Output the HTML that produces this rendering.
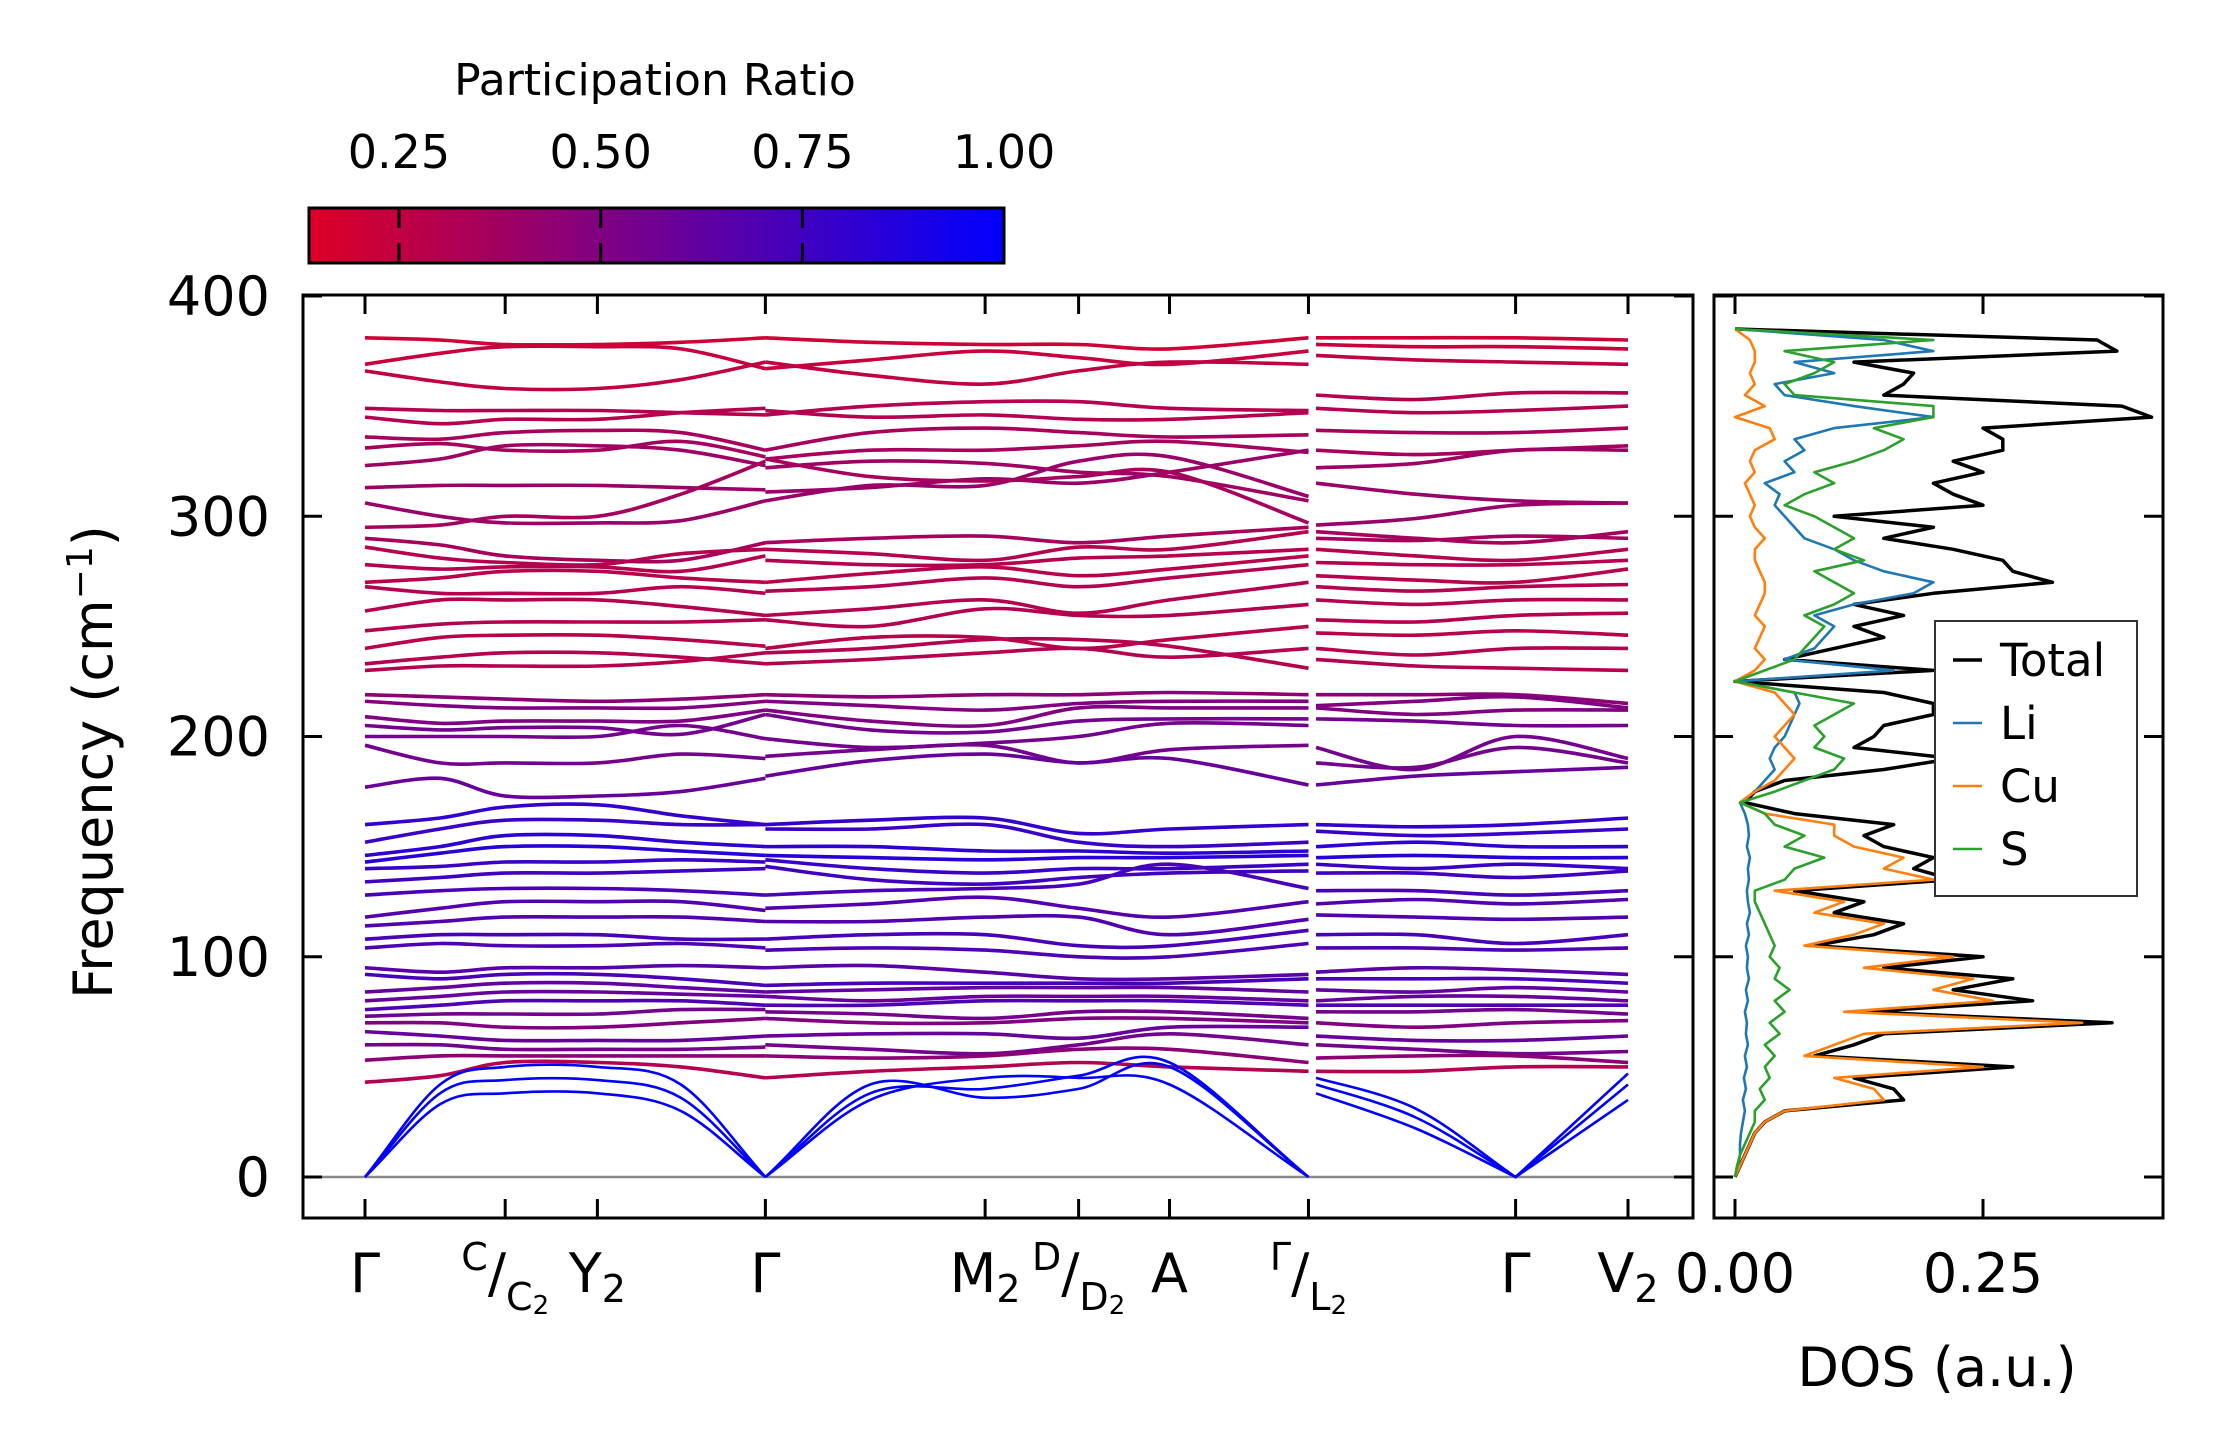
<!DOCTYPE html>
<html><head><meta charset="utf-8">
<style>
html,body{margin:0;padding:0;background:#fff;}
svg{display:block;font-family:"DejaVu Sans","Liberation Sans",sans-serif;}
</style></head>
<body>
<svg id="fig" width="2222" height="1455" viewBox="0 0 2222 1455" xmlns="http://www.w3.org/2000/svg">
<defs>
<linearGradient id="cbgrad" x1="0" x2="1" y1="0" y2="0">
<stop offset="0" stop-color="rgb(222,0,38)"/>
<stop offset="1" stop-color="rgb(0,0,255)"/>
</linearGradient>
<clipPath id="mainclip"><rect x="303" y="295" width="1390" height="923"/></clipPath>
<clipPath id="dosclip"><rect x="1714" y="295" width="449" height="923"/></clipPath>
</defs>
<g id="colorbar">
<text x="655" y="95" font-size="44" text-anchor="middle">Participation Ratio</text>
<rect x="309" y="208" width="695" height="55" fill="url(#cbgrad)" stroke="#000" stroke-width="3"/>
</g>
<g id="main"></g>
<g id="dos"></g>
</svg>
<script>
const cbTicks = [0.25, 0.50, 0.75, 1.00];
const cbTickLabels = ["0.25", "0.50", "0.75", "1.00"];
const yTicks = [0, 100, 200, 300, 400];
const kTicks = [0, 0.111, 0.184, 0.317, 0.491, 0.565, 0.637, 0.747, 0.911, 1.0];
const seg1K = [0, 0.0594, 0.111, 0.184, 0.250, 0.317];
const seg2K = [0.317, 0.400, 0.491, 0.565, 0.637, 0.747];
const seg3K = [0.753, 0.832, 0.911, 1.0];
const bands = [
[381,380,378,378,379,381, 381,379,378,378,376,381, 381,381,381,380],
[369,374,377,377,376,367, 367,371,375,372,369,375, 378,377,377,376],
[366,361,358,358,362,370, 370,364,360,366,370,369, 373,371,370,369],
[349,348,348,348,347,346, 346,350,352,352,349,348, 355,353,356,356],
[345,342,344,344,347,349, 348,345,346,344,344,347, 349,347,348,350],
[336,335,338,339,338,330, 330,338,340,338,336,337, 339,338,338,340],
[331,333,330,330,334,327, 326,330,330,332,334,329, 330,328,330,332],
[323,326,332,332,330,323, 322,325,324,320,318,307, 322,324,330,330],
[313,314,314,314,313,312, 311,313,317,315,320,330, 315,310,307,306],
[306,300,297,297,298,307, 307,314,314,325,327,309, 296,299,305,306],
[295,296,300,300,310,325, 326,318,316,318,320,297, 290,289,291,290],
[290,287,282,280,280,288, 288,290,291,288,291,295, 293,290,288,293],
[286,281,279,278,283,285, 285,283,280,286,285,293, 285,282,280,285],
[278,276,277,277,275,282, 280,278,278,281,282,285, 279,278,278,280],
[270,272,275,275,272,270, 270,274,277,273,276,282, 273,271,270,276],
[268,265,265,265,268,265, 266,268,272,268,272,278, 268,266,268,269],
[257,262,262,262,259,255, 255,258,262,256,262,270, 262,260,262,262],
[248,251,252,252,252,253, 253,250,258,255,255,260, 253,252,255,256],
[240,245,246,246,244,241, 240,245,245,240,244,250, 247,246,248,246],
[233,236,238,238,236,233, 233,235,238,240,236,240, 240,237,240,240],
[230,232,232,232,234,238, 238,240,244,244,241,231, 235,232,231,230],
[219,218,217,216,217,219, 219,218,219,219,220,219, 219,219,219,215],
[216,214,213,213,213,216, 216,214,212,215,216,216, 214,216,218,213],
[209,206,207,207,207,212, 212,207,205,213,213,213, 213,210,212,212],
[205,203,204,204,201,210, 210,203,202,207,208,208, 208,207,205,205],
[200,200,200,200,205,199, 199,195,197,200,206,205, 195,185,200,190],
[196,188,188,188,192,190, 191,194,196,188,194,196, 188,186,195,188],
[177,181,173,173,175,181, 182,189,192,188,190,178, 178,182,184,186],
[160,163,168,169,164,160, 160,162,163,156,158,160, 160,159,160,163],
[152,158,162,162,160,160, 158,158,160,152,150,152, 157,155,156,158],
[146,150,155,155,152,150, 150,150,148,148,147,148, 150,152,150,150],
[143,147,150,150,148,146, 146,145,144,145,145,146, 145,146,145,145],
[140,141,143,143,144,143, 144,140,138,140,140,142, 142,140,142,140],
[134,136,138,138,139,140, 141,135,133,136,138,139, 138,138,136,139],
[128,130,131,131,130,128, 128,130,131,133,142,131, 130,130,128,130],
[118,122,125,125,125,121, 122,124,127,122,118,125, 124,126,124,126],
[114,116,118,118,118,116, 116,116,118,118,110,117, 119,118,117,118],
[108,110,110,110,108,108, 108,110,110,105,105,112, 110,110,106,110],
[104,106,105,105,106,104, 103,104,103,100,100,106, 104,104,103,104],
[95,93,95,95,96,95, 95,96,93,90,90,92, 93,95,94,92],
[92,90,92,92,90,87, 87,88,88,88,88,90, 90,90,90,88],
[84,86,88,88,86,84, 84,85,86,86,86,84, 85,84,86,84],
[80,82,84,84,83,82, 82,80,82,82,82,80, 80,82,82,80],
[76,78,80,80,80,78, 78,78,80,80,80,78, 78,78,78,78],
[73,74,74,74,76,76, 75,74,72,75,75,72, 75,75,76,74],
[70,70,68,68,70,72, 72,70,70,72,72,70, 70,68,70,71],
[66,64,62,62,62,64, 64,65,65,63,68,68, 64,62,62,64],
[60,60,58,58,58,59, 60,58,56,60,65,60, 60,58,56,57],
[53,55,55,55,55,55, 55,54,55,58,58,52, 54,55,55,52],
[43,46,52,52,50,45, 45,48,50,52,50,48, 48,48,50,50],
[0,33,38,38,30,0, 0,35,45,45,42,0, 38,22,0,35],
[0,38,44,44,36,0, 0,38,40,46,52,0, 42,27,0,42],
[0,42,50,50,42,0, 0,42,36,40,50,0, 45,31,0,47]
];
const bandPR = [0.2,0.22,0.25,0.3,0.3,0.35,0.35,0.38,0.4,0.4,0.35,0.35,0.3,0.3,0.28,0.3,0.3,0.3,0.28,0.3,0.3,
0.45,0.5,0.5,0.55,0.55,0.55,0.6,0.8,0.78,0.82,0.85,0.78,0.75,0.72,0.68,0.68,0.72,0.7,
0.65,0.72,0.62,0.6,0.7,0.55,0.5,0.6,0.55,0.45,0.3,1.0,1.0,1.0];
const dosFreq = [0,5,10,15,20,25,30,35,40,45,50,55,60,65,70,75,80,85,90,95,100,105,110,115,120,125,130,135,140,145,150,155,160,165,170,175,180,185,190,195,200,205,210,215,220,225,230,235,240,245,250,255,260,265,270,275,280,285,290,295,300,305,310,315,320,325,330,335,340,345,350,355,360,365,370,375,380,385];
const dosTotal = [0,.005,.01,.015,.02,.03,.05,.17,.16,.12,.28,.08,.12,.15,.38,.13,.3,.22,.28,.15,.25,.08,.14,.17,.1,.13,.06,.22,.18,.2,.15,.13,.16,.06,.01,.02,.05,.15,.22,.12,.14,.15,.2,.2,.15,0,.2,.05,.1,.15,.12,.17,.12,.2,.32,.28,.27,.22,.15,.2,.1,.25,.22,.2,.25,.22,.27,.27,.25,.42,.39,.15,.17,.18,.12,.385,.365,0];
const dosCu = [0,.005,.01,.015,.02,.03,.05,.15,.14,.1,.25,.07,.1,.13,.35,.11,.26,.2,.24,.13,.22,.07,.12,.15,.08,.11,.04,.2,.15,.17,.12,.1,.1,.03,.005,.02,.04,.05,.06,.05,.04,.05,.06,.05,.04,0,.02,.03,.02,.025,.03,.02,.025,.03,.03,.025,.02,.02,.03,.02,.015,.02,.015,.01,.02,.015,.02,.04,.035,0,.03,.01,.02,.015,.02,.02,.015,0];
const dosS = [0,.002,.005,.01,.015,.02,.02,.03,.025,.035,.03,.04,.03,.045,.035,.05,.04,.055,.04,.045,.035,.04,.035,.03,.025,.02,.02,.05,.06,.09,.05,.07,.04,.03,.005,.04,.07,.1,.11,.08,.09,.08,.1,.12,.06,0,.03,.06,.07,.08,.09,.07,.1,.12,.1,.08,.13,.1,.12,.1,.08,.05,.07,.1,.08,.12,.15,.17,.14,.2,.2,.06,.05,.08,.1,.05,.2,0];
const dosLi = [0,.003,.005,.005,.006,.008,.01,.008,.011,.009,.012,.01,.013,.011,.012,.01,.013,.011,.014,.012,.013,.011,.014,.012,.015,.013,.012,.014,.013,.015,.012,.014,.013,.01,.005,.02,.03,.04,.035,.04,.05,.055,.06,.065,.06,0,.16,.05,.08,.09,.1,.08,.12,.18,.2,.15,.12,.1,.07,.06,.05,.04,.045,.03,.06,.05,.07,.06,.1,.2,.12,.05,.04,.1,.06,.2,.15,0];
const dosXTicks = [0, 0.25];
const dosXTickLabels = ["0.00", "0.25"];

const NS = "http://www.w3.org/2000/svg";
const yS = v => 1177 - v * 2.2025;
const kS = k => 365 + k * 1263;
const dS = d => 1735 + d * 992;
const cbS = v => 399 + (v - 0.25) * 806.8;
function prColor(p){
  const t = Math.max(0, Math.min(1, (p - 0.136) / (1 - 0.136)));
  return `rgb(${Math.round(222*(1-t))},0,${Math.round(38+217*t)})`;
}
function mk(tag, attrs, parent){
  const e = document.createElementNS(NS, tag);
  for (const k in attrs) e.setAttribute(k, attrs[k]);
  parent.appendChild(e); return e;
}
function catmull(pts){
  let d = `M${pts[0][0]},${pts[0][1]}`;
  for (let i = 0; i < pts.length - 1; i++){
    const p0 = pts[Math.max(0,i-1)], p1 = pts[i], p2 = pts[i+1], p3 = pts[Math.min(pts.length-1,i+2)];
    let c1x = p1[0] + (p2[0]-p0[0])/6, c1y = p1[1] + (p2[1]-p0[1])/6;
    let c2x = p2[0] - (p3[0]-p1[0])/6, c2y = p2[1] - (p3[1]-p1[1])/6;
    if (p1[1] >= 1176) { c1x = p1[0] + (p2[0]-p1[0])/3; c1y = p1[1] + (p2[1]-p1[1])/3; }
    if (p2[1] >= 1176) { c2x = p2[0] - (p2[0]-p1[0])/3; c2y = p2[1] - (p2[1]-p1[1])/3; }
    d += ` C${c1x.toFixed(1)},${c1y.toFixed(1)} ${c2x.toFixed(1)},${c2y.toFixed(1)} ${p2[0].toFixed(1)},${p2[1].toFixed(1)}`;
  }
  return d;
}

const cb = document.getElementById('colorbar');
cbTicks.forEach((v, i) => {
  const x = cbS(v);
  if (v < 1) {
    const t1 = mk('line', {x1:x, x2:x, y1:208, y2:228, stroke:'#000', 'stroke-width':3}, cb);
    
    
    const t2 = mk('line', {x1:x, x2:x, y1:243, y2:263, stroke:'#000', 'stroke-width':3}, cb);
    
    
  }
  const tl = mk('text', {x:x, y:168, 'font-size':46, 'text-anchor':'middle'}, cb);
  
  
  tl.textContent = cbTickLabels[i];
});

const main = document.getElementById('main');
const bg = mk('g', {'clip-path':'url(#mainclip)'}, main);
const zl = mk('line', {x1:303, x2:1693, y1:yS(0), y2:yS(0), stroke:'#888', 'stroke-width':2.5}, bg);


const segs = [[seg1K,0],[seg2K,6],[seg3K,12]];
bands.forEach((b, bi) => {
  const col = prColor(bandPR[bi]);
  const w = bandPR[bi] >= 1 ? 2.6 : 3.6;
  segs.forEach(([ks, off]) => {
    const pts = ks.map((k, j) => [kS(k), yS(b[off+j])]);
    const p = mk('path', {d:catmull(pts), fill:'none', stroke:col, 'stroke-width':w}, bg);
    
    
  });
});
const mf = mk('rect', {x:303, y:295, width:1390, height:923, fill:'none', stroke:'#000', 'stroke-width':3}, main);


yTicks.forEach(v => {
  const y = yS(v);
  const a = mk('line', {x1:303, x2:322, y1:y, y2:y, stroke:'#000', 'stroke-width':3}, main);
  
  
  const b = mk('line', {x1:1674, x2:1693, y1:y, y2:y, stroke:'#000', 'stroke-width':3}, main);
  
  
  const t = mk('text', {x:270, y:y+19, 'font-size':54, 'text-anchor':'end'}, main);
  
  
  t.textContent = String(v);
});
kTicks.forEach(k => {
  const x = kS(k);
  const a = mk('line', {x1:x, x2:x, y1:1199, y2:1218, stroke:'#000', 'stroke-width':3}, main);
  
  
  const b = mk('line', {x1:x, x2:x, y1:295, y2:314, stroke:'#000', 'stroke-width':3}, main);
  
  
});
const yl = mk('text', {x:0, y:0, 'font-size':54, 'text-anchor':'middle', transform:'translate(112,762) rotate(-90)'}, main);


yl.innerHTML = 'Frequency (cm<tspan font-size="36" dy="-20">−1</tspan><tspan dy="20">)</tspan>';

const xLabels = [
  [0, 'Γ'],
  [0.111, '<tspan font-size="38" dy="-22">C</tspan><tspan dy="22">/</tspan><tspan font-size="38" dy="18">C</tspan><tspan font-size="26" dy="4">2</tspan>'],
  [0.184, 'Y<tspan font-size="38" dy="10">2</tspan>'],
  [0.317, 'Γ'],
  [0.491, 'M<tspan font-size="38" dy="10">2</tspan>'],
  [0.565, '<tspan font-size="38" dy="-22">D</tspan><tspan dy="22">/</tspan><tspan font-size="38" dy="18">D</tspan><tspan font-size="26" dy="4">2</tspan>'],
  [0.637, 'A'],
  [0.747, '<tspan font-size="38" dy="-22">Γ</tspan><tspan dy="22">/</tspan><tspan font-size="38" dy="18">L</tspan><tspan font-size="26" dy="4">2</tspan>'],
  [0.911, 'Γ'],
  [1.0, 'V<tspan font-size="38" dy="10">2</tspan>']
];
xLabels.forEach(([k, html]) => {
  const t = mk('text', {x:kS(k), y:1292, 'font-size':54, 'text-anchor':'middle'}, main);
  
  
  t.innerHTML = html;
});

const dos = document.getElementById('dos');
const dg = mk('g', {'clip-path':'url(#dosclip)'}, dos);
function dosLine(arr, col, w, name){
  const pts = arr.map((v, i) => `${dS(v).toFixed(1)},${yS(dosFreq[i]).toFixed(1)}`).join(' ');
  const p = mk('polyline', {points:pts, fill:'none', stroke:col, 'stroke-width':w, 'stroke-linejoin':'round'}, dg);
  
  
}
dosLine(dosTotal, '#000', 3.5, 'dos-total-line');
dosLine(dosLi, '#1f77b4', 2.6, 'dos-li-line');
dosLine(dosCu, '#ff7f0e', 2.6, 'dos-cu-line');
dosLine(dosS, '#2ca02c', 2.6, 'dos-s-line');
const df = mk('rect', {x:1714, y:295, width:449, height:923, fill:'none', stroke:'#000', 'stroke-width':3}, dos);


yTicks.forEach(v => {
  const y = yS(v);
  const a = mk('line', {x1:1714, x2:1733, y1:y, y2:y, stroke:'#000', 'stroke-width':3}, dos);
  
  
  const b = mk('line', {x1:2144, x2:2163, y1:y, y2:y, stroke:'#000', 'stroke-width':3}, dos);
  
  
});
dosXTicks.forEach((v, i) => {
  const x = dS(v);
  const a = mk('line', {x1:x, x2:x, y1:1199, y2:1218, stroke:'#000', 'stroke-width':3}, dos);
  
  
  const b = mk('line', {x1:x, x2:x, y1:295, y2:314, stroke:'#000', 'stroke-width':3}, dos);
  
  
  const t = mk('text', {x:x, y:1292, 'font-size':54, 'text-anchor':'middle'}, dos);
  
  
  t.textContent = dosXTickLabels[i];
});
const dxl = mk('text', {x:1937, y:1386, 'font-size':54, 'text-anchor':'middle'}, dos);


dxl.textContent = 'DOS (a.u.)';

const leg = mk('g', {}, dos);


const lb = mk('rect', {x:1935, y:621, width:202, height:275, fill:'#fff', stroke:'#333', 'stroke-width':2}, leg);


const legItems = [['Total','#000',3.5],['Li','#1f77b4',2.6],['Cu','#ff7f0e',2.6],['S','#2ca02c',2.6]];
legItems.forEach(([name, col, w], i) => {
  const y = 660 + i * 63;
  const l = mk('line', {x1:1953, x2:1982, y1:y, y2:y, stroke:col, 'stroke-width':w}, leg);
  
  
  const t = mk('text', {x:2000, y:y+16, 'font-size':45}, leg);
  
  
  t.textContent = name;
});
</script>
</body></html>
